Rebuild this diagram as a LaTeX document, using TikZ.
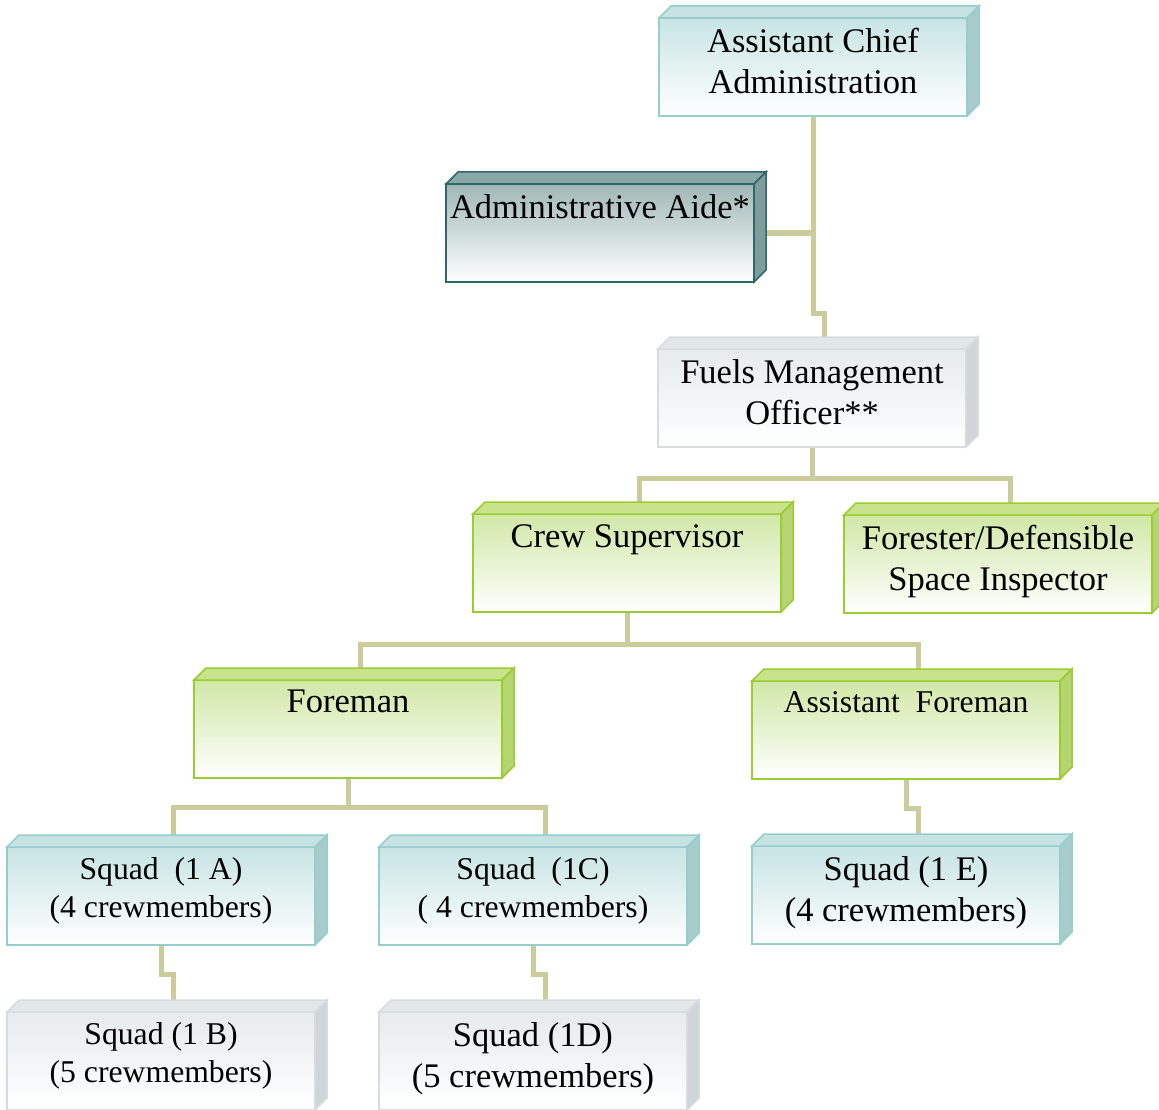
\documentclass[tikz,border=0pt]{standalone}
\usepackage{fontspec}
\setmainfont{Liberation Serif}
\usetikzlibrary{backgrounds}
\definecolor{linkc}{RGB}{203,203,155}
\definecolor{tealedge}{RGB}{150,205,205}
\definecolor{tealfront}{RGB}{200,228,228}
\definecolor{tealroof}{RGB}{198,226,226}
\definecolor{tealside}{RGB}{168,204,204}
\definecolor{darkedge}{RGB}{47,104,104}
\definecolor{darkfront}{RGB}{160,183,183}
\definecolor{darkroof}{RGB}{139,168,168}
\definecolor{darkside}{RGB}{126,156,156}
\definecolor{greyedge}{RGB}{214,220,223}
\definecolor{greyfront}{RGB}{230,235,237}
\definecolor{greyroof}{RGB}{226,231,233}
\definecolor{greyside}{RGB}{208,214,216}
\definecolor{greenedge}{RGB}{154,205,50}
\definecolor{greenfront}{RGB}{208,232,166}
\definecolor{greenroof}{RGB}{200,227,140}
\definecolor{greenside}{RGB}{181,213,112}
\newcommand{\bigtxt}{\fontsize{34.5}{41}\selectfont}
\newcommand{\smalltxt}{\fontsize{31.7}{38}\selectfont}
\tikzset{
  front/.style={minimum width=308pt, minimum height=98pt, inner sep=0pt, outer sep=0pt, anchor=north west},
  facebox/.style={line width=1.5pt, draw=#1edge, top color=#1front, bottom color=white},
  link/.style={draw=linkc, line width=5pt},
  label/.style={align=center, anchor=north, inner sep=0pt}
}
% #1 name, #2 front corner, #3 colour set, #4 size, #5 text
\newcommand{\orgbox}[5]{%
  \node[front, facebox=#3] (#1) at (#2) {};
  \filldraw[line width=1.5pt, draw=#3edge, fill=#3roof] (#1.north west) -- ++(12pt,12pt)
    -- ([shift={(12pt,12pt)}]#1.north east) -- (#1.north east) -- cycle;
  \filldraw[line width=1.5pt, draw=#3edge, fill=#3side] (#1.north east) -- ++(12pt,12pt)
    -- ([shift={(12pt,12pt)}]#1.south east) -- (#1.south east) -- cycle;
  \coordinate (#1-top) at ([shift={(12pt,12pt)}]#1.north);
  \node[label, font=#4] (#1-text) at ([yshift=-10pt]#1.north) {#5};
}
\begin{document}
\begin{tikzpicture}[x=1pt, y=-1pt]
  \useasboundingbox (0,0) rectangle (1159,1110);
  \orgbox{chief}{659,18}{teal}{\bigtxt}{Assistant Chief\\Administration}
  \orgbox{aide}{446,184}{dark}{\bigtxt}{Administrative Aide*}
  \orgbox{fuels}{658,349}{grey}{\bigtxt}{Fuels Management\\Officer**}
  \orgbox{crew}{473,514}{green}{\bigtxt}{Crew Supervisor}
  \orgbox{forester}{844,515}{green}{\bigtxt}{Forester/Defensible\\Space Inspector}
  \orgbox{foreman}{194,680}{green}{\bigtxt}{Foreman}
  \orgbox{asstfm}{752,681}{green}{\smalltxt}{Assistant\ \ Foreman}
  \orgbox{sqa}{7,847}{teal}{\smalltxt}{Squad\ \ (1 A)\\(4 crewmembers)}
  \orgbox{sqc}{379,847}{teal}{\smalltxt}{Squad\ \ (1C)\\( 4 crewmembers)}
  \orgbox{sqe}{752,846}{teal}{\bigtxt}{Squad (1 E)\\(4 crewmembers)}
  \orgbox{sqb}{7,1012}{grey}{\smalltxt}{Squad (1 B)\\(5 crewmembers)}
  \orgbox{sqd}{379,1012}{grey}{\bigtxt}{Squad (1D)\\(5 crewmembers)}
  \begin{scope}[on background layer]
    \draw[link] (chief.south) |- (aide.east);
    \draw[link] (chief.south) |- ([yshift=24pt]fuels-top) -- (fuels-top);
    \draw[link] (fuels.south) -- ++(0,31);
    \draw[link] (crew-top) |- ([yshift=-31pt]fuels.south) -| (forester-top);
    \draw[link] (crew.south) -- ++(0,32);
    \draw[link] (foreman-top) |- ([yshift=-32pt]crew.south) -| (asstfm-top);
    \draw[link] (foreman.south) -- ++(0,29);
    \draw[link] (sqa-top) |- ([yshift=-29pt]foreman.south) -| (sqc-top);
    \foreach \up/\down in {asstfm/sqe, sqa/sqb, sqc/sqd}
      \draw[link] (\up.south) |- ([yshift=26pt]\down-top) -- (\down-top);
  \end{scope}
\end{tikzpicture}
\end{document}
